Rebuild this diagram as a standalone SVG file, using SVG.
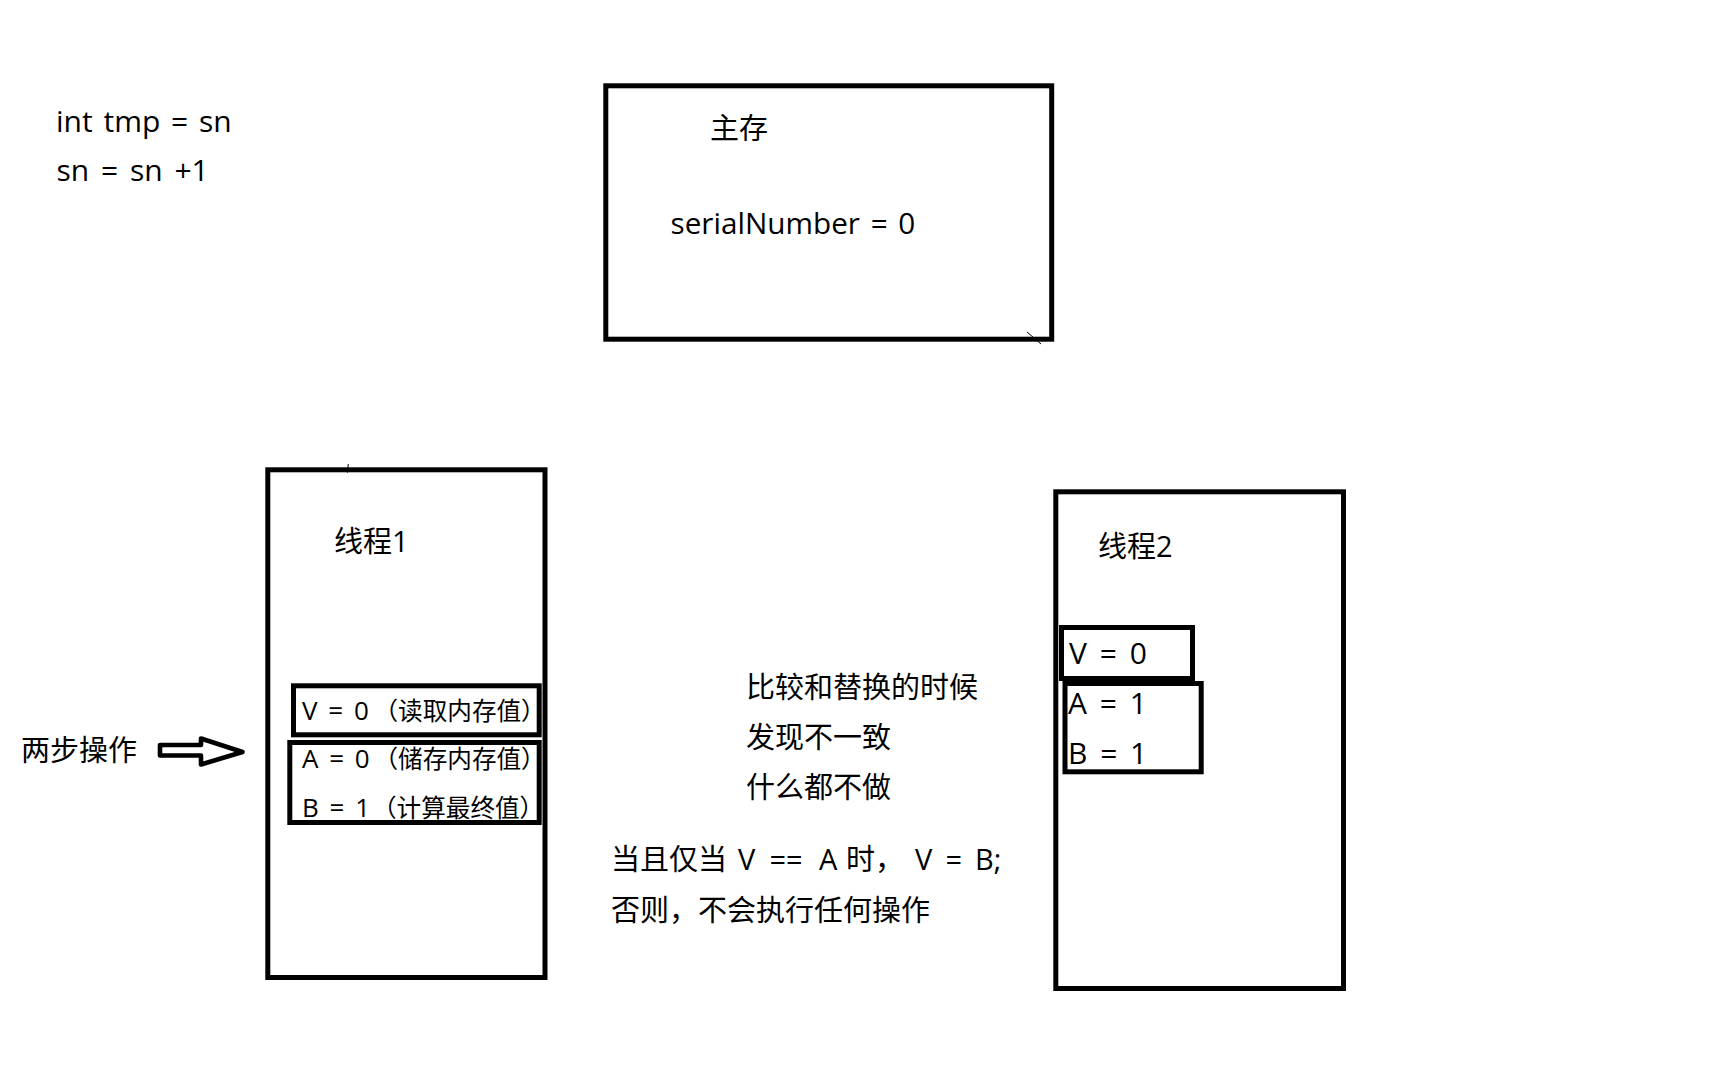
<svg xmlns="http://www.w3.org/2000/svg" width="1728" height="1080" viewBox="0 0 1728 1080">
<style>
.t{font-family:"Open Sans","Noto Sans CJK SC",sans-serif;font-size:29px;fill:#000}
.s{font-size:26px;word-spacing:4px}
.c{font-size:24.6px}
.m{font-size:30px;word-spacing:5px}
.box{fill:none;stroke:#000;stroke-width:5}
.thin{fill:none;stroke:#000;stroke-width:1}
</style>
<rect x="0" y="0" width="1728" height="1080" fill="#fff"/>
<g id="code">
<text class="t" x="56" y="132" style="font-size:30px;word-spacing:3px">int tmp = sn</text>
<text class="t" x="56.5" y="181" style="font-size:30px;word-spacing:4px">sn = sn +1</text>
</g>
<g id="main-memory">
<rect class="box" x="605.8" y="85.8" width="445.9" height="253.4"/>
<path class="thin" d="M1027,332 L1041,344"/>
<text class="t" x="710" y="139">主存</text>
<text class="t" x="670.5" y="234" style="font-size:29.7px;word-spacing:3px">serialNumber = 0</text>
</g>
<g id="thread1">
<rect class="box" x="267.8" y="469.8" width="277.2" height="507.7"/>
<path class="thin" d="M348.3,464 L347.3,472.7"/>
<text class="t" x="334" y="552">线程1</text>
<text class="t s" x="302" y="720">V = 0 <tspan class="c" x="373.5">（读取内存值）</tspan></text>
<text class="t s" x="302" y="768">A = 0 <tspan class="c" x="373.5">（储存内存值）</tspan></text>
<text class="t s" x="302" y="817">B = 1 <tspan class="c" x="372">（计算最终值）</tspan></text>
<rect class="box" x="293.5" y="685.8" width="245.7" height="49"/>
<rect class="box" x="289.8" y="742.5" width="249.4" height="80"/>
</g>
<g id="thread2">
<rect class="box" x="1055.8" y="491.8" width="287.7" height="496.7"/>
<text class="t" x="1098" y="557">线程2</text>
<rect class="box" x="1061.5" y="627.5" width="131" height="51"/>
<rect class="box" x="1065" y="683.5" width="136.2" height="88.3"/>
<text class="t m" x="1069" y="664">V = 0</text>
<text class="t m" x="1068" y="714">A = 1</text>
<text class="t m" x="1068" y="764">B = 1</text>
</g>
<g id="two-steps">
<text class="t" x="21" y="761">两步操作</text>
</g>
<g id="connectors">
<polygon points="160,745 201,745 201,738.5 242.5,752 201,764.5 201,755.5 160,755.5" fill="#fff" stroke="#000" stroke-width="4.6" stroke-linejoin="round"/>
</g>
<g id="notes">
<text class="t" x="746" y="698">比较和替换的时候</text>
<text class="t" x="746" y="748">发现不一致</text>
<text class="t" x="746" y="798">什么都不做</text>
<text class="t" x="611" y="870">当且仅当 <tspan x="738">V</tspan> <tspan x="769.5">==</tspan> <tspan x="819">A</tspan> <tspan x="846">时，</tspan> <tspan x="915">V</tspan> <tspan x="945.5">=</tspan> <tspan x="975">B;</tspan></text>
<text class="t" x="611" y="921">否则，不会执行任何操作</text>
</g>
</svg>
